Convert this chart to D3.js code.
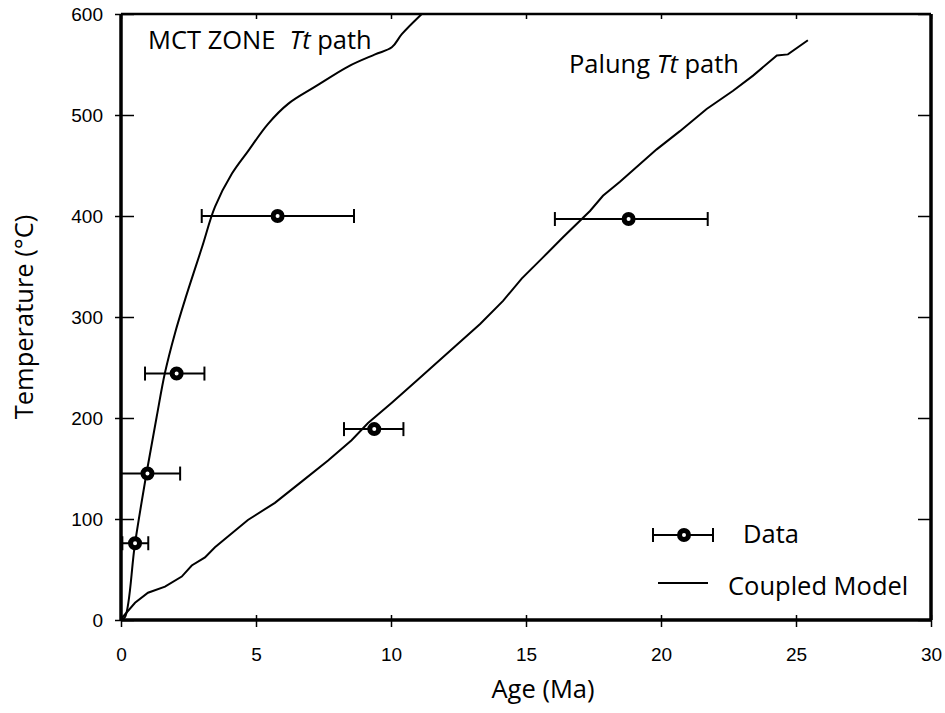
<!DOCTYPE html>
<html>
<head>
<meta charset="utf-8">
<script src="https://cdn.jsdelivr.net/npm/d3@7"></script>
<style>
  body { margin: 0; background: #fff; }
  .tick text { font-family: "Liberation Sans", Arial, sans-serif; font-size: 19px; fill: #000; }
  .lbl { font-family: "Open Sans", sans-serif; fill: #000; }
</style>
</head>
<body>
<div id="chart"></div>
<script>
// Model Tt paths (age Ma, temperature C)
var mctAge  = [0, 0.15, 0.52, 0.95, 1.32, 1.63, 2.0, 2.37, 3.0, 3.48, 4.11, 4.7, 5.44, 6.19, 7.19, 8.41, 9.41, 10.03, 10.4, 11.14];
var mctTemp = [0, 3, 76, 146, 201, 245, 284, 317, 369, 409, 442, 464, 491, 511, 528, 548, 560, 567, 580, 600];

var palungAge  = [0, 0.03, 0.52, 1.0, 1.63, 2.25, 2.62, 3.11, 3.48, 4.7, 5.7, 6.69, 7.67, 8.54, 9.15, 10.03, 11.0, 13.3, 14.15, 14.84, 15.63, 16.37, 17.37, 17.85, 18.48, 19.84, 20.7, 21.69, 22.67, 23.41, 24.29, 24.7, 25.44];
var palungTemp = [0, 2, 17, 27, 33, 43, 54, 62, 72, 99, 116, 137, 158, 178, 195, 215, 238, 293, 316, 338, 359, 379, 405, 420, 434, 466, 484, 506, 524, 539, 559, 560, 574];

// Data points with age error
var dataAge    = [5.8, 18.8, 2.06, 0.98, 0.52, 9.38];
var dataTemp   = [400, 397, 244, 145, 76, 189];
var dataAgeMin = [2.99, 16.07, 0.89, 0.0, 0.05, 8.26];
var dataAgeMax = [8.63, 21.73, 3.09, 2.19, 1.01, 10.46];

var xTicks = [0, 5, 10, 15, 20, 25, 30];
var yTicks = [0, 100, 200, 300, 400, 500, 600];

var svgWidth = 945, svgHeight = 713;
var margin = { top: 14, right: 14, bottom: 93, left: 121 };
var width = svgWidth - margin.left - margin.right;
var height = svgHeight - margin.top - margin.bottom;

var svg = d3.select("#chart").append("svg")
  .attr("width", svgWidth)
  .attr("height", svgHeight);

var chart = svg.append("g")
  .attr("transform", "translate(" + margin.left + "," + margin.top + ")");

var x = d3.scaleLinear().domain([0, 30]).range([0, width]);
var y = d3.scaleLinear().domain([0, 600]).range([height, 0]);

// axes with ticks crossing the frame
var bottomAxis = chart.append("g")
  .attr("transform", "translate(0," + height + ")")
  .call(d3.axisBottom(x).tickValues(xTicks).tickSizeInner(7).tickSizeOuter(0).tickPadding(21));
bottomAxis.selectAll(".tick line").attr("y1", -5).attr("stroke-width", 1.5);

var leftAxis = chart.append("g")
  .call(d3.axisLeft(y).tickValues(yTicks).tickSizeInner(6).tickSizeOuter(0).tickPadding(12));
leftAxis.selectAll(".tick line").attr("x1", 13).attr("stroke-width", 1.5);

chart.append("g")
  .call(d3.axisTop(x).tickValues(xTicks).tickSizeInner(-5).tickSizeOuter(0).tickFormat(""))
  .selectAll(".tick line").attr("stroke-width", 1.5);

chart.append("g")
  .attr("transform", "translate(" + width + ",0)")
  .call(d3.axisRight(y).tickValues(yTicks).tickSizeInner(-13).tickSizeOuter(0).tickFormat(""))
  .selectAll(".tick line").attr("stroke-width", 1.5);

chart.selectAll(".domain").remove();

// frame
chart.append("line").attr("x1", 0).attr("x2", width).attr("y1", 0).attr("y2", 0)
  .attr("stroke", "#000").attr("stroke-width", 2.5);
chart.append("line").attr("x1", width).attr("x2", width).attr("y1", 0).attr("y2", height)
  .attr("stroke", "#000").attr("stroke-width", 3.5);
chart.append("line").attr("x1", 0).attr("x2", width).attr("y1", height).attr("y2", height)
  .attr("stroke", "#000").attr("stroke-width", 3.5);
chart.append("line").attr("x1", 0).attr("x2", 0).attr("y1", 0).attr("y2", height)
  .attr("stroke", "#000").attr("stroke-width", 3.5);

// model curves
var smooth = d3.line()
  .x(function(d) { return x(d[0]); })
  .y(function(d) { return y(d[1]); })
  .curve(d3.curveCatmullRom);

var line = d3.line()
  .x(function(d) { return x(d[0]); })
  .y(function(d) { return y(d[1]); });

chart.append("path")
  .datum(d3.zip(mctAge, mctTemp))
  .attr("d", smooth)
  .attr("fill", "none").attr("stroke", "#000").attr("stroke-width", 2);

chart.append("path")
  .datum(d3.zip(palungAge, palungTemp))
  .attr("d", line)
  .attr("fill", "none").attr("stroke", "#000").attr("stroke-width", 2);

// error bars + points
var pts = chart.selectAll(".pt")
  .data(dataAge)
  .enter().append("g").attr("class", "pt");

pts.append("line")
  .attr("x1", function(d, i) { return x(dataAgeMin[i]); })
  .attr("x2", function(d, i) { return x(dataAgeMax[i]); })
  .attr("y1", function(d, i) { return y(dataTemp[i]); })
  .attr("y2", function(d, i) { return y(dataTemp[i]); })
  .attr("stroke", "#000").attr("stroke-width", 2);

[dataAgeMin, dataAgeMax].forEach(function(arr) {
  pts.append("line")
    .attr("x1", function(d, i) { return x(arr[i]); })
    .attr("x2", function(d, i) { return x(arr[i]); })
    .attr("y1", function(d, i) { return y(dataTemp[i]) - 7; })
    .attr("y2", function(d, i) { return y(dataTemp[i]) + 7; })
    .attr("stroke", "#000").attr("stroke-width", 2);
});

pts.append("circle")
  .attr("cx", function(d, i) { return x(dataAge[i]); })
  .attr("cy", function(d, i) { return y(dataTemp[i]); })
  .attr("r", 4.5)
  .attr("fill", "#fff").attr("stroke", "#000").attr("stroke-width", 5);

// curve labels
var t1 = svg.append("text").attr("class", "lbl")
  .attr("x", 148).attr("y", 49).style("font-size", "25.5px");
t1.append("tspan").text("MCT ZONE");
t1.append("tspan").attr("dx", 14).style("font-style", "italic").text("Tt");
t1.append("tspan").text(" path");

var t2 = svg.append("text").attr("class", "lbl")
  .attr("x", 569).attr("y", 73).style("font-size", "25.5px");
t2.append("tspan").text("Palung ");
t2.append("tspan").style("font-style", "italic").text("Tt");
t2.append("tspan").text(" path");

// axis titles
svg.append("text").attr("class", "lbl")
  .attr("x", 543).attr("y", 698)
  .attr("text-anchor", "middle").style("font-size", "25.5px")
  .text("Age (Ma)");

svg.append("text").attr("class", "lbl")
  .attr("transform", "translate(33,317) rotate(-90)")
  .attr("text-anchor", "middle").style("font-size", "25.5px")
  .text("Temperature (\u00B0C)");

// legend
var lg = svg.append("g");
lg.append("line").attr("x1", 653).attr("x2", 713).attr("y1", 535).attr("y2", 535)
  .attr("stroke", "#000").attr("stroke-width", 2);
lg.append("line").attr("x1", 653).attr("x2", 653).attr("y1", 528).attr("y2", 542)
  .attr("stroke", "#000").attr("stroke-width", 2);
lg.append("line").attr("x1", 713).attr("x2", 713).attr("y1", 528).attr("y2", 542)
  .attr("stroke", "#000").attr("stroke-width", 2);
lg.append("circle").attr("cx", 684).attr("cy", 535).attr("r", 4.5)
  .attr("fill", "#fff").attr("stroke", "#000").attr("stroke-width", 5);
lg.append("text").attr("class", "lbl").attr("x", 743).attr("y", 543)
  .style("font-size", "25.5px").text("Data");
lg.append("line").attr("x1", 658).attr("x2", 708).attr("y1", 583).attr("y2", 583)
  .attr("stroke", "#000").attr("stroke-width", 2);
lg.append("text").attr("class", "lbl").attr("x", 728).attr("y", 595)
  .style("font-size", "25.5px").text("Coupled Model");
</script>
</body>
</html>
